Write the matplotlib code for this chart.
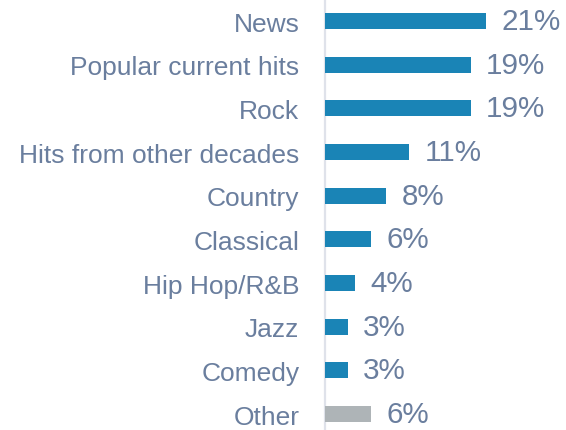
import matplotlib
matplotlib.use("Agg")
import matplotlib.pyplot as plt

categories = ["News", "Popular current hits", "Rock", "Hits from other decades",
              "Country", "Classical", "Hip Hop/R&B", "Jazz", "Comedy", "Other"]
values = [21, 19, 19, 11, 8, 6, 4, 3, 3, 6]
value_labels = ["21%", "19%", "19%", "11%", "8%", "6%", "4%", "3%", "3%", "6%"]

blue = "#1a84b6"
grey = "#aeb4b7"
text_color = "#6a7e9e"
colors = [grey if c == "Other" else blue for c in categories]

plt.rcParams["font.family"] = ["Liberation Sans", "DejaVu Sans"]

W, H = 566, 431
fig = plt.figure(figsize=(W / 100, H / 100), dpi=100)
ax = fig.add_axes([323 / W, 0, (W - 323) / W, 1])

ypos = list(range(len(categories)))
ax.barh(ypos, values, height=0.37, color=colors, zorder=2)
ax.axvline(0, color="#dfe2ea", linewidth=1.6, zorder=1)

ax.set_ylim(9.366, -0.504)
ax.set_xlim(-0.2, (W - 323) / 7.75)

for y, v, lab in zip(ypos, values, value_labels):
    ax.annotate(lab, (v, y), xytext=(11, 0), textcoords="offset points",
                ha="left", va="center", fontsize=21.3, color=text_color)

ax.set_yticks(ypos)
ax.set_yticklabels(categories, fontsize=19, color=text_color)
ax.tick_params(axis="y", length=0, pad=17)
ax.set_xticks([])
for s in ax.spines.values():
    s.set_visible(False)

fig.savefig("out.png", dpi=100)
